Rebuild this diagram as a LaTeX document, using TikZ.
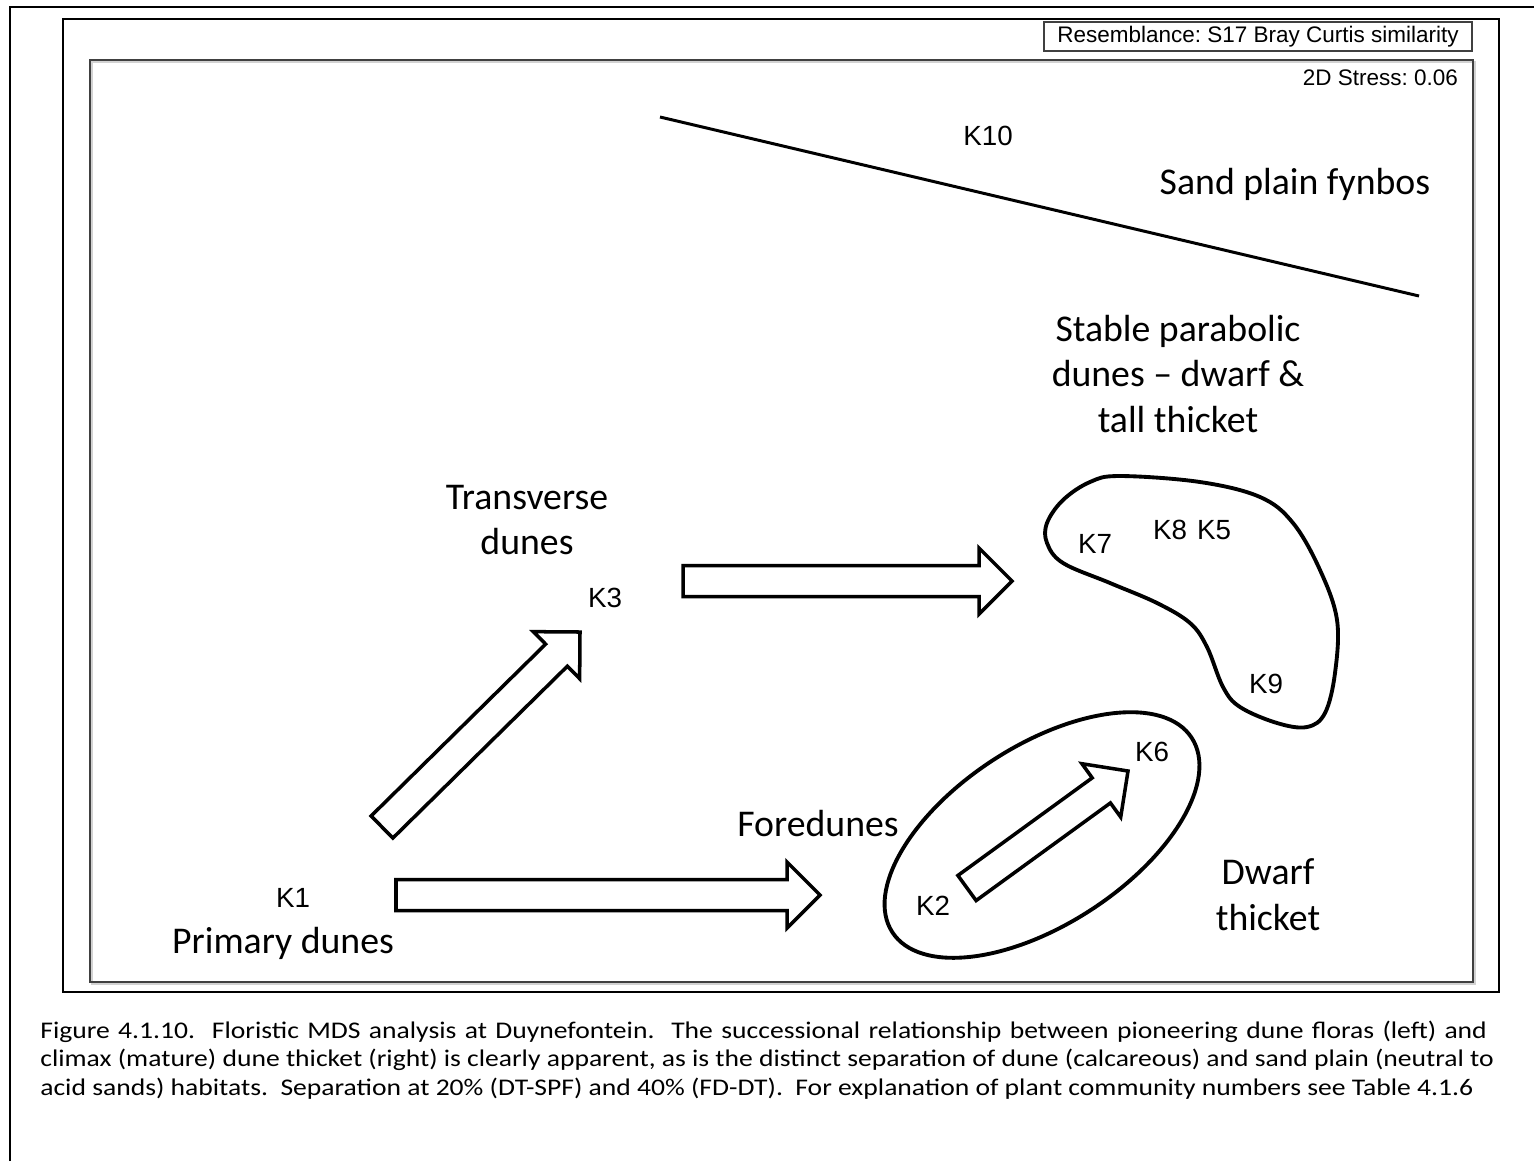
\documentclass[tikz,border=0pt]{standalone}
\usepackage{fontspec}
\setmainfont{Carlito}
\newfontfamily\arialfont{Liberation Sans}
\newfontfamily\capfont[FakeStretch=1.155]{Carlito}
\usetikzlibrary{calc}
\frenchspacing
\newcommand{\samp}[3]{
\node[font=\arialfont\fontsize{15.8}{18}\selectfont] (#1) at (#2) {#3};}
\newcommand{\barrow}[2]{
\coordinate (hb) at ($(#2)!0.66cm!(#1)$);
\draw[line width=2pt, fill=white] ($(#1)!0.31cm!90:(#2)$) -- ($(hb)!0.31cm!90:(#2)$) -- ($(hb)!0.66cm!90:(#2)$) -- (#2) -- ($(hb)!0.66cm!-90:(#2)$) -- ($(hb)!0.31cm!-90:(#2)$) -- ($(#1)!0.31cm!-90:(#2)$) -- cycle;}
\tikzset{lab/.style={font=\fontsize{21.5}{26}\selectfont, align=center},
  capline/.style={anchor=base west, inner sep=0, font=\capfont\fontsize{13.6}{16}\selectfont}}

\begin{document}
\begin{tikzpicture}[x=0.02cm, y=-0.02cm]
\useasboundingbox (0,0) rectangle (1534,1161);
\draw[line width=1.2pt] (10,1161)--(10,7)--(1534,7);
\draw[line width=0.7pt] (63,19) rectangle (1499,992);
\draw[gray!35, line width=1.6pt] (92,62) rectangle (1475,984);
\draw[black!75, line width=0.9pt] (90,60) rectangle (1473,982);
\node[draw=black!75, line width=0.9pt, fill=white, minimum width=8.56cm, minimum height=0.58cm, inner sep=0,
  font=\arialfont\fontsize{12.8}{15}\selectfont] (resem) at (1258,36.5) {Resemblance: S17 Bray Curtis similarity};
\node[anchor=east, font=\arialfont\fontsize{12.8}{15}\selectfont] (stress) at (1464,78) {2D Stress: 0.06};

\coordinate (sa) at (660,117);
\coordinate (sb) at (1419,296);
\draw[line width=1.7pt] (sa)--(sb);

\draw[line width=2.2pt] plot[smooth cycle, tension=0.6] coordinates {
(1120,476) (1200,482) (1260,497) (1293,523) (1320,570) (1337,620) (1335,673)
(1325,713) (1307,727) (1277,723) (1240,707) (1223,687) (1207,647) (1190,623)
(1157,603) (1110,583) (1063,563) (1047,543) (1047,523) (1063,500) (1090,482)};
\draw[line width=2.2pt, rotate around={33:(1042,835)}] (1042,835) ellipse [x radius=3.57cm, y radius=1.79cm];

\coordinate (a1) at (683,581);
\coordinate (b1) at (1012,581);
\coordinate (a2) at (396,895);
\coordinate (b2) at (820,895);
\coordinate (a3) at (382,827);
\coordinate (b3) at (580,632);
\coordinate (a4) at (967,888);
\coordinate (b4) at (1128,771);
\barrow{a1}{b1}
\barrow{a2}{b2}
\barrow{a3}{b3}
\barrow{a4}{b4}

\samp{k10}{988,136}{K10}
\samp{k3}{605,598}{K3}
\samp{k7}{1095,544}{K7}
\samp{k8}{1170,530}{K8}
\samp{k5}{1214,530}{K5}
\samp{k9}{1266,684}{K9}
\samp{k6}{1152,752}{K6}
\samp{k2}{933,906}{K2}
\samp{k1}{293,898}{K1}

\node[lab] (sandplain) at (1295,184) {Sand plain fynbos};
\node[lab] (stable) at (1178,374) {Stable parabolic\\dunes – dwarf \&\\tall thicket};
\node[lab] (transverse) at (527,520) {Transverse\\dunes};
\node[lab] (fore) at (818,824) {Foredunes};
\node[lab] (dwarf) at (1268,895) {Dwarf\\thicket};
\node[lab] (primary) at (283,943) {Primary dunes};

\node[capline] (cap1) at (40,1038) {\makebox[28.94cm][s]{Figure 4.1.10.\ \ Floristic MDS analysis at Duynefontein.\ \ The successional relationship between pioneering dune floras (left) and}};
\node[capline] (cap2) at (40,1066.5) {\makebox[29.08cm][s]{climax (mature) dune thicket (right) is clearly apparent, as is the distinct separation of dune (calcareous) and sand plain (neutral to}};
\node[capline] (cap3) at (40,1095) {acid sands) habitats.\ \ Separation at 20\% (DT-SPF) and 40\% (FD-DT).\ \ For explanation of plant community numbers see Table 4.1.6};
\end{tikzpicture}
\end{document}
